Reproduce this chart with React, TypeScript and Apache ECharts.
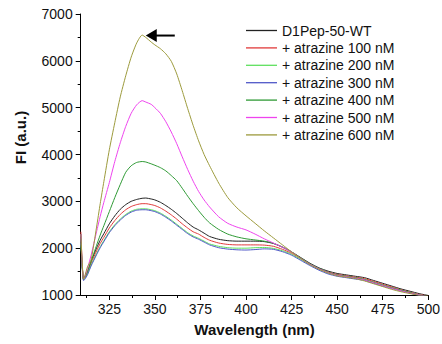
import React, { useEffect, useRef } from "react";
import * as echarts from "echarts";

const wavelengths = [309.4, 310, 310.8, 311.5, 313, 315, 318, 320, 322, 325, 328, 331, 334, 337, 340, 343, 345, 348, 350, 353, 356, 359, 362, 365, 368, 371, 374, 377, 380, 385, 390, 395, 400, 405, 410, 415, 420, 425, 430, 435, 440, 445, 450, 455, 460, 465, 470, 475, 480, 485, 490, 495, 500];

const seriesNames = ["D1Pep-50-WT", "+ atrazine 100 nM", "+ atrazine 200 nM", "+ atrazine 300 nM", "+ atrazine 400 nM", "+ atrazine 500 nM", "+ atrazine 600 nM"];

const wt = [2000, 1700, 1360, 1380, 1500, 1720, 2000, 2170, 2310, 2520, 2690, 2830, 2930, 3000, 3040, 3065, 3070, 3050, 3030, 2980, 2910, 2830, 2740, 2640, 2540, 2450, 2390, 2320, 2250, 2190, 2160, 2150, 2150, 2150, 2140, 2100, 2020, 1920, 1800, 1680, 1580, 1510, 1460, 1430, 1400, 1370, 1310, 1250, 1190, 1130, 1080, 1030, 990];
const atz100 = [2350, 1750, 1350, 1370, 1480, 1680, 1940, 2100, 2230, 2430, 2590, 2720, 2820, 2890, 2930, 2950, 2950, 2930, 2910, 2860, 2790, 2710, 2620, 2520, 2430, 2350, 2300, 2230, 2170, 2110, 2080, 2070, 2070, 2070, 2065, 2040, 1975, 1890, 1780, 1660, 1560, 1490, 1440, 1410, 1380, 1350, 1290, 1230, 1170, 1110, 1060, 1010, 980];
const atz200 = [2100, 1700, 1330, 1350, 1450, 1640, 1880, 2030, 2160, 2350, 2500, 2620, 2720, 2790, 2830, 2840, 2840, 2820, 2800, 2750, 2680, 2600, 2510, 2420, 2330, 2260, 2210, 2150, 2090, 2040, 2010, 2000, 2000, 2010, 2015, 1995, 1945, 1870, 1760, 1650, 1550, 1470, 1420, 1390, 1360, 1330, 1270, 1210, 1150, 1100, 1050, 1000, 970];
const atz300 = [2300, 1650, 1310, 1330, 1430, 1620, 1860, 2010, 2140, 2330, 2480, 2600, 2700, 2770, 2810, 2820, 2820, 2800, 2780, 2730, 2660, 2580, 2490, 2400, 2310, 2240, 2190, 2130, 2070, 2010, 1980, 1965, 1960, 1970, 1985, 1975, 1925, 1850, 1740, 1630, 1530, 1450, 1400, 1370, 1340, 1310, 1250, 1190, 1140, 1090, 1040, 990, 960];
const atz400 = [2200, 1700, 1340, 1370, 1500, 1720, 2060, 2280, 2480, 2780, 3080, 3360, 3620, 3760, 3830, 3850, 3840, 3800, 3770, 3720, 3650, 3550, 3440, 3280, 3110, 2950, 2800, 2660, 2540, 2400, 2300, 2240, 2200, 2175, 2150, 2105, 2025, 1920, 1790, 1670, 1570, 1490, 1430, 1400, 1370, 1330, 1270, 1210, 1150, 1100, 1050, 1000, 970];
const atz500 = [2300, 1750, 1340, 1380, 1560, 1850, 2350, 2680, 2980, 3400, 3850, 4250, 4600, 4880, 5060, 5150, 5120, 5070, 5000, 4880, 4700, 4480, 4230, 3950, 3680, 3430, 3210, 3030, 2880, 2670, 2530, 2450, 2390, 2300, 2200, 2110, 2020, 1920, 1780, 1660, 1560, 1480, 1420, 1390, 1360, 1320, 1260, 1200, 1140, 1090, 1040, 1000, 960];
const atz600 = [2300, 1800, 1340, 1400, 1600, 1750, 2450, 2950, 3420, 4100, 4680, 5230, 5680, 6080, 6380, 6550, 6500, 6400, 6340, 6260, 6150, 5990, 5720, 5360, 4980, 4620, 4290, 4000, 3760, 3390, 3080, 2860, 2690, 2530, 2370, 2220, 2070, 1920, 1780, 1650, 1550, 1470, 1410, 1380, 1350, 1300, 1240, 1180, 1120, 1070, 1030, 990, 950];

const seriesValues = [wt, atz100, atz200, atz300, atz400, atz500, atz600];
const seriesColors = ["#222222", "#e03a3a", "#5ee05e", "#5058c8", "#2f9a35", "#ee44ee", "#9c9a3c"];

const xMajorTicks = [325, 350, 375, 400, 425, 450, 475, 500];
const xMinorTicks = [312.5, 337.5, 362.5, 387.5, 412.5, 437.5, 462.5, 487.5];
const arrowTip = [345, 6540];

const FONT = "'Liberation Sans', Arial, Helvetica, sans-serif";

export default function App() {
  const ref = useRef<HTMLDivElement>(null);
  useEffect(() => {
    if (!ref.current) return;
    const chart = echarts.init(ref.current, undefined, { renderer: "svg" });
    const option: any = {
      animation: false,
      backgroundColor: "#ffffff",
      grid: { left: 80.7, right: 13.7, top: 14, bottom: 49, containLabel: false, outerBoundsMode: "none" },
      legend: {
        orient: "vertical",
        left: 246,
        top: 23.5,
        itemWidth: 31,
        itemHeight: 14,
        itemGap: 3.4,
        padding: 0,
        icon: "path://M0,0 L31,0 L31,1.3 L0,1.3 Z",
        textStyle: { fontFamily: FONT, fontSize: 14, color: "#111" },
        data: seriesNames,
      },
      xAxis: [
        {
          type: "value",
          min: 309.3,
          max: 500,
          name: "Wavelength (nm)",
          nameLocation: "middle",
          nameGap: 27,
          nameTextStyle: { fontFamily: FONT, fontSize: 15, fontWeight: "bold", color: "#111" },
          axisLine: { show: true, lineStyle: { color: "#000", width: 1 } },
          axisTick: { show: true, inside: false, length: 5, customValues: xMajorTicks, lineStyle: { color: "#000" } },
          axisLabel: { customValues: xMajorTicks, fontFamily: FONT, fontSize: 14, color: "#111", margin: 7, formatter: (v: number) => String(v) },
          splitLine: { show: false },
        },
        {
          type: "value",
          min: 309.3,
          max: 500,
          position: "bottom",
          axisLine: { show: false },
          axisTick: { show: true, length: 3, customValues: xMinorTicks, lineStyle: { color: "#000" } },
          axisLabel: { show: false },
          splitLine: { show: false },
        },
      ],
      yAxis: {
        type: "value",
        min: 1000,
        max: 7000,
        interval: 1000,
        axisLine: { show: true, lineStyle: { color: "#000", width: 1 } },
        axisTick: { show: true, length: 5, lineStyle: { color: "#000" } },
        minorTick: { show: true, splitNumber: 2, length: 3, lineStyle: { color: "#000" } },
        axisLabel: { fontFamily: FONT, fontSize: 14, color: "#111", margin: 8, formatter: (v: number) => String(v) },
        splitLine: { show: false },
        minorSplitLine: { show: false },
      },
      series: seriesNames.map((name, i) => ({
        name,
        type: "line",
        xAxisIndex: 0,
        showSymbol: false,
        symbol: "none",
        smooth: 0.2,
        color: seriesColors[i],
        lineStyle: { width: 1, color: seriesColors[i] },
        data: wavelengths.map((w, j) => [w, seriesValues[i][j]]),
      })),
    };
    chart.setOption(option);
    const tip = chart.convertToPixel({ gridIndex: 0 }, arrowTip) as number[];
    if (tip && isFinite(tip[0])) {
      chart.setOption({
        graphic: [
          {
            type: "polygon",
            shape: { points: [[tip[0], tip[1]], [tip[0] + 11, tip[1] - 6.5], [tip[0] + 11, tip[1] + 6.5]] },
            style: { fill: "#000" },
            z: 100,
          },
          {
            type: "line",
            shape: { x1: tip[0] + 10, y1: tip[1], x2: tip[0] + 29, y2: tip[1] },
            style: { stroke: "#000", lineWidth: 2 },
            z: 100,
          },
          {
            type: "text",
            x: 20,
            y: 137.5,
            rotation: Math.PI / 2,
            style: {
              text: "FI (a.u.)",
              font: "bold 15px " + FONT,
              fill: "#111",
              textAlign: "center",
              textVerticalAlign: "middle",
            },
          },
        ],
      });
    }
    return () => chart.dispose();
  }, []);
  return <div ref={ref} style={{ position: "absolute", left: 0, top: 0, width: 442, height: 344 }} />;
}
